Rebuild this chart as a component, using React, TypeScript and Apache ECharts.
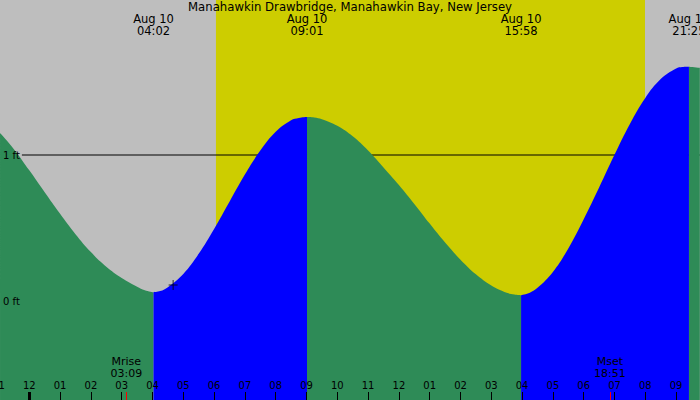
import React, { useEffect, useRef } from "react";
import * as echarts from "echarts";

const titleText = "Manahawkin Drawbridge, Manahawkin Bay, New Jersey";

// hours since midnight Aug 10
const curveHours = [
  -0.95, -0.5, 0, 0.5, 1, 1.5, 2, 2.5, 3, 3.5, 3.75, 4.033,
  4.25, 4.5, 5, 5.5, 6, 6.5, 7, 7.5, 8, 8.5, 8.75, 9.017,
  9.25, 9.5, 10, 10.5, 11, 11.5, 12, 12.5, 13, 13.5, 14, 14.5, 15, 15.5, 15.75, 15.967,
  16.25, 16.5, 17, 17.5, 18, 18.5, 19, 19.5, 20, 20.5, 21, 21.2, 21.417, 21.77,
];
const curveFeet = [
  1.15, 1.04, 0.895, 0.745, 0.597, 0.458, 0.335, 0.235, 0.158, 0.098, 0.074, 0.06,
  0.068, 0.095, 0.185, 0.323, 0.493, 0.68, 0.866, 1.03, 1.159, 1.238, 1.254, 1.26,
  1.257, 1.245, 1.2, 1.128, 1.031, 0.915, 0.795, 0.665, 0.53, 0.4, 0.283, 0.183, 0.107, 0.057, 0.045, 0.04,
  0.057, 0.09, 0.199, 0.36, 0.56, 0.778, 1.002, 1.213, 1.391, 1.52, 1.593, 1.603, 1.605, 1.597,
];

const extremeHours = [4.033, 9.017, 15.967, 21.417];
const extremeTypes = ["low", "high", "low", "high"];
const extremeLabels = ["Aug 10\n04:02", "Aug 10\n09:01", "Aug 10\n15:58", "Aug 10\n21:25"];

const hourTicks = [-1, 0, 1, 2, 3, 4, 5, 6, 7, 8, 9, 10, 11, 12, 13, 14, 15, 16, 17, 18, 19, 20, 21];
const hourLabels = ["11", "12", "01", "02", "03", "04", "05", "06", "07", "08", "09", "10", "11", "12", "01", "02", "03", "04", "05", "06", "07", "08", "09"];
const midnightTicks = [0];

const moonHours = [3.15, 18.85];
const moonLabels = ["Mrise\n03:09", "Mset\n18:51"];

const daylight = [6.06, 19.99];

const footLevels = [0, 1];
const footLineStart = -0.24;

const nowMark = [4.67, 0.109];

const X_MIN = -0.951;
const X_MAX = 21.776;
const Y_MIN = -0.678;
const Y_MAX = 2.0616;
const W = 700;
const EDGE_PAD = 40; // px of hidden grid extension to the left, for the clipped first hour label

const FONT = "DejaVu Sans";

function buildPhases() {
  const falling: (number | null)[][] = [];
  const rising: (number | null)[][] = [];
  curveHours.forEach((t, i) => {
    let next = -1;
    let prev = -1;
    for (let k = 0; k < extremeHours.length; k++) {
      if (next < 0 && extremeHours[k] >= t - 1e-6) next = k;
      if (extremeHours[k] <= t + 1e-6) prev = k;
    }
    const inFall =
      (next >= 0 && extremeTypes[next] === "low") || (prev >= 0 && extremeTypes[prev] === "high");
    const inRise =
      (next >= 0 && extremeTypes[next] === "high") || (prev >= 0 && extremeTypes[prev] === "low");
    falling.push([t, inFall ? curveFeet[i] : null]);
    rising.push([t, inRise ? curveFeet[i] : null]);
  });
  return { falling, rising };
}

const hourLabelOf = (v: number) => {
  const i = hourTicks.findIndex((h) => Math.abs(h - v) < 1e-6);
  return i >= 0 ? hourLabels[i] : "";
};

export default function App() {
  const ref = useRef<HTMLDivElement>(null);
  useEffect(() => {
    document.body.style.margin = "0";
    const chart = echarts.init(ref.current!, undefined, { renderer: "svg" });
    const { falling, rising } = buildPhases();
    const baseX = {
      type: "value",
      min: X_MIN,
      max: X_MAX,
      gridIndex: 0,
      axisLine: { show: false, onZero: false },
      splitLine: { show: false },
      z: 10,
    };
    const hourLabelStyle = {
      show: true,
      inside: true,
      margin: 10,
      fontSize: 10,
      color: "#000",
      fontFamily: FONT,
      showMinLabel: true,
      showMaxLabel: true,
      formatter: hourLabelOf,
    };
    const extX_MIN = X_MIN - (EDGE_PAD * (X_MAX - X_MIN)) / W;
    const option: any = {
      animation: false,
      backgroundColor: "#bebebe",
      textStyle: { fontFamily: FONT },
      title: {
        text: titleText,
        left: "center",
        top: 1,
        padding: 0,
        textStyle: { fontSize: 11.7, fontWeight: "normal", color: "#000", fontFamily: FONT },
      },
      grid: [
        {
          left: 0,
          right: 0,
          top: 0,
          bottom: 0,
          containLabel: false,
          outerBoundsMode: "none",
          show: true,
          backgroundColor: "#bebebe",
          borderWidth: 0,
        },
        {
          left: -EDGE_PAD,
          right: 0,
          top: 0,
          bottom: 0,
          containLabel: false,
          outerBoundsMode: "none",
          show: false,
        },
      ],
      xAxis: [
        {
          ...baseX,
          position: "bottom",
          axisTick: { show: true, inside: true, length: 8, customValues: hourTicks, lineStyle: { color: "#000", width: 1 } },
          axisLabel: { ...hourLabelStyle, customValues: hourTicks },
        },
        {
          ...baseX,
          position: "bottom",
          axisTick: { show: true, inside: true, length: 8, customValues: midnightTicks, lineStyle: { color: "#000", width: 3 } },
          axisLabel: { show: false },
        },
        {
          ...baseX,
          position: "bottom",
          axisTick: { show: true, inside: true, length: 8, customValues: moonHours, lineStyle: { color: "#ff0000", width: 1 } },
          axisLabel: {
            show: true,
            inside: true,
            margin: 21,
            customValues: moonHours,
            fontSize: 11,
            lineHeight: 12,
            color: "#000",
            fontFamily: FONT,
            formatter: (v: number) => {
              const i = moonHours.findIndex((h) => Math.abs(h - v) < 1e-6);
              return i >= 0 ? moonLabels[i] : "";
            },
          },
        },
        {
          ...baseX,
          position: "top",
          axisTick: { show: false },
          axisLabel: {
            show: true,
            inside: true,
            margin: 13,
            customValues: extremeHours,
            fontSize: 11.5,
            lineHeight: 12,
            color: "#000",
            fontFamily: FONT,
            showMinLabel: true,
            showMaxLabel: true,
            formatter: (v: number) => {
              const i = extremeHours.findIndex((h) => Math.abs(h - v) < 1e-6);
              return i >= 0 ? extremeLabels[i] : "";
            },
          },
        },
        {
          ...baseX,
          gridIndex: 1,
          min: extX_MIN,
          position: "bottom",
          axisTick: { show: false },
          axisLabel: { ...hourLabelStyle, customValues: hourTicks.filter((h) => h < X_MIN) },
        },
      ],
      yAxis: [
        {
          type: "value",
          min: Y_MIN,
          max: Y_MAX,
          position: "left",
          axisLine: { show: false, onZero: false },
          axisTick: { show: false },
          splitLine: { show: false },
          z: 10,
          axisLabel: {
            show: true,
            inside: true,
            margin: 3,
            customValues: footLevels,
            fontSize: 10,
            color: "#000",
            fontFamily: FONT,
            formatter: (v: number) => `${Math.round(v)} ft`,
          },
        },
        {
          type: "value",
          gridIndex: 1,
          min: Y_MIN,
          max: Y_MAX,
          show: false,
        },
      ],
      series: [
        {
          type: "custom",
          z: 1,
          silent: true,
          data: [daylight],
          renderItem: (params: any, api: any) => {
            const p0 = api.coord([api.value(0), Y_MAX]);
            const p1 = api.coord([api.value(1), Y_MIN]);
            return {
              type: "rect",
              shape: { x: p0[0], y: p0[1], width: p1[0] - p0[0], height: p1[1] - p0[1] },
              style: { fill: "#cdcd00" },
            };
          },
        },
        {
          type: "line",
          z: 2,
          silent: true,
          symbol: "none",
          data: [[footLineStart, footLevels[1]], [X_MAX, footLevels[1]]],
          lineStyle: { color: "#000", width: 1 },
        },
        {
          type: "line",
          z: 3,
          silent: true,
          symbol: "none",
          smooth: 0.4,
          connectNulls: false,
          data: falling,
          lineStyle: { width: 0, opacity: 0 },
          areaStyle: { color: "#2e8b57", opacity: 1, origin: "start" },
        },
        {
          type: "line",
          z: 3,
          silent: true,
          symbol: "none",
          smooth: 0.4,
          connectNulls: false,
          data: rising,
          lineStyle: { width: 0, opacity: 0 },
          areaStyle: { color: "#0000ff", opacity: 1, origin: "start" },
        },
        {
          type: "scatter",
          z: 5,
          silent: true,
          symbol: "path://M0,4.5h9v1h-9z M4,0h1v10h-1z",
          symbolSize: [9, 10],
          itemStyle: { color: "#000" },
          data: [nowMark],
        },
      ],
    };
    chart.setOption(option);
    return () => chart.dispose();
  }, []);
  return <div ref={ref} style={{ width: 700, height: 400 }} />;
}
